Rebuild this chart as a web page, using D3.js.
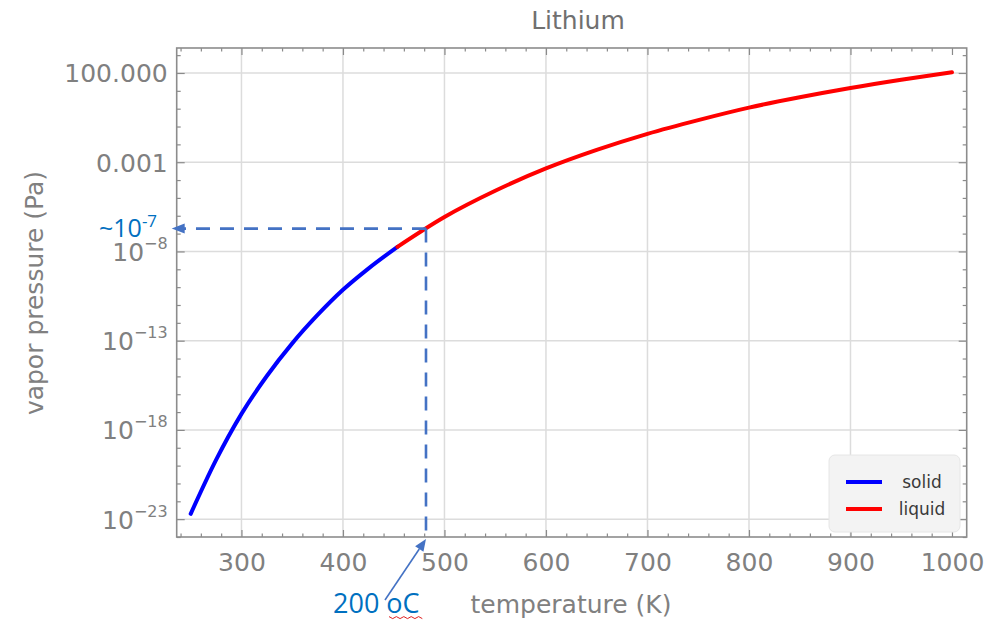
<!DOCTYPE html>
<html><head><meta charset="utf-8">
<script src="https://cdn.jsdelivr.net/npm/d3@7"></script>
<style>body{margin:0;background:#fff}</style>
</head><body>
<svg id="chart" width="991" height="626"></svg>
<script>
// ---- data ----
const title = "Lithium";
const xTitle = "temperature (K)";
const yTitle = "vapor pressure (Pa)";
const solidT = [250, 275, 300, 325, 350, 375, 400, 425, 453.7];
const solidLogP = [-22.7, -19.68, -17.1, -14.98, -13.15, -11.56, -10.15, -8.96, -7.74];
const liquidT = [453.7, 500, 550, 600, 650, 700, 750, 800, 850, 900, 950, 1000];
const liquidLogP = [-7.74, -6.07, -4.6, -3.35, -2.31, -1.41, -0.64, 0.06, 0.64, 1.16, 1.62, 2.04];
const xTicks = [300, 400, 500, 600, 700, 800, 900, 1000];
const yTickExp = [2, -3, -8, -13, -18, -23];
const yTickLabels = ["100.000", "0.001", "10|\u22128", "10|\u221213", "10|\u221218", "10|\u221223"];
const seriesNames = ["solid", "liquid"];
const seriesColors = ["#0000ff", "#ff0000"];
const annotT = 481.8;        // dashed guide, K
const annotLogP = -6.72;     // dashed guide, log10 Pa
const annotYText = ["~10", "-7"];
const annotXText = "200 oC";

// ---- layout ----
const svg = d3.select("#chart");
svg.append("rect").attr("width", 991).attr("height", 626).attr("fill", "#fff");
const L = 176.7, R = 966.7, T = 48, B = 537;
const x = d3.scaleLinear().domain([236.2, 1014.5]).range([L, R]);
const y = d3.scaleLog().domain([1e-24, Math.pow(10, 3.4)]).range([B, T]);
const gray = "#808080";
const tickFont = "'DejaVu Sans', Verdana, sans-serif";

// gridlines
const grid = svg.append("g").attr("stroke", "#dcdcdc").attr("stroke-width", 1.5);
grid.selectAll("line.v").data(xTicks.filter(t => t < 1000)).join("line")
  .attr("x1", d => x(d)).attr("x2", d => x(d)).attr("y1", T).attr("y2", B);
grid.selectAll("line.h").data(yTickExp).join("line")
  .attr("x1", L).attr("x2", R).attr("y1", d => y(Math.pow(10, d))).attr("y2", d => y(Math.pow(10, d)));

// minor tick values
const xMinor = d3.range(240, 1014, 20).filter(v => v % 100 !== 0);
const yMinor = d3.range(-24, 4).filter(e => !yTickExp.includes(e)).map(e => Math.pow(10, e));
const yMajor = yTickExp.map(e => Math.pow(10, e));

function styleAxis(g) {
  g.select(".domain").remove();
  g.selectAll(".tick line").attr("stroke", "#8a8a8a").attr("stroke-width", 1.2);
}
// bottom
const gB = svg.append("g").attr("transform", `translate(0,${B})`)
  .call(d3.axisBottom(x).tickValues(xTicks).tickSize(-7).tickPadding(16).tickFormat(d3.format("d")));
styleAxis(gB);
gB.selectAll("text").attr("font-family", tickFont).attr("font-size", 25).attr("fill", gray);
svg.append("g").attr("transform", `translate(0,${B})`)
  .call(d3.axisBottom(x).tickValues(xMinor).tickSize(-3.5).tickFormat("")).call(styleAxis);
// top
svg.append("g").attr("transform", `translate(0,${T})`)
  .call(d3.axisTop(x).tickValues(xTicks).tickSize(-7).tickFormat("")).call(styleAxis);
svg.append("g").attr("transform", `translate(0,${T})`)
  .call(d3.axisTop(x).tickValues(xMinor).tickSize(-3.5).tickFormat("")).call(styleAxis);
// left
const gL = svg.append("g").attr("transform", `translate(${L},0)`)
  .call(d3.axisLeft(y).tickValues(yMajor).tickSize(-8).tickPadding(9).tickFormat(""));
styleAxis(gL);
gL.selectAll(".tick text").each(function(d, i) {
  const t = d3.select(this).attr("font-family", tickFont).attr("fill", gray).attr("font-size", 25).attr("dy", "0.36em");
  const parts = yTickLabels[i].split("|");
  t.text(null);
  t.append("tspan").text(parts[0]);
  if (parts[1]) {
    t.append("tspan").attr("font-size", 16).attr("dy", "-0.75em").text(parts[1]);
  }
});
svg.append("g").attr("transform", `translate(${L},0)`)
  .call(d3.axisLeft(y).tickValues(yMinor).tickSize(-4).tickFormat("")).call(styleAxis);
// right
svg.append("g").attr("transform", `translate(${R},0)`)
  .call(d3.axisRight(y).tickValues(yMajor).tickSize(-8).tickFormat("")).call(styleAxis);
svg.append("g").attr("transform", `translate(${R},0)`)
  .call(d3.axisRight(y).tickValues(yMinor).tickSize(-4).tickFormat("")).call(styleAxis);

// frame
svg.append("rect").attr("x", L).attr("y", T).attr("width", R - L).attr("height", B - T)
  .attr("fill", "none").attr("stroke", "#8c8c8c").attr("stroke-width", 1.6);

// curves
const line = d3.line().x(d => x(d[0])).y(d => y(Math.pow(10, d[1]))).curve(d3.curveMonotoneX);
const series = [solidT.map((t, i) => [t, solidLogP[i]]), liquidT.map((t, i) => [t, liquidLogP[i]])];
series.forEach((s, i) => {
  svg.append("path").attr("d", line(s)).attr("fill", "none")
    .attr("stroke", seriesColors[i]).attr("stroke-width", 4).attr("stroke-linecap", "round");
});

// legend
const lg = svg.append("g");
lg.append("rect").attr("x", 829).attr("y", 455).attr("width", 131).attr("height", 77).attr("rx", 6)
  .attr("fill", "#f3f3f3").attr("stroke", "#e6e6e6");
seriesNames.forEach((n, i) => {
  const yy = 482 + i * 27;
  lg.append("line").attr("x1", 846).attr("x2", 882).attr("y1", yy).attr("y2", yy)
    .attr("stroke", seriesColors[i]).attr("stroke-width", 4);
  lg.append("text").attr("x", 922).attr("y", yy + 6).attr("text-anchor", "middle")
    .attr("font-family", tickFont).attr("font-size", 17).attr("fill", "#3a3a3a").text(n);
});

// titles
svg.append("text").attr("x", 578).attr("y", 29).attr("text-anchor", "middle")
  .attr("font-family", tickFont).attr("font-size", 25).attr("fill", "#707070").text(title);
svg.append("text").attr("x", 571).attr("y", 613).attr("text-anchor", "middle")
  .attr("font-family", tickFont).attr("font-size", 25).attr("fill", gray).text(xTitle);
svg.append("text").attr("transform", "translate(43,293) rotate(-90)").attr("text-anchor", "middle")
  .attr("font-family", tickFont).attr("font-size", 25).attr("fill", gray).text(yTitle);

// annotation
const blue = "#4472C4", txtBlue = "#0070C0";
const ax = x(annotT), ay = y(Math.pow(10, annotLogP));
const tipX = L - 5;
svg.append("path").attr("d", `M${ax},${ay}H${tipX + 12}`).attr("stroke", blue)
  .attr("stroke-width", 2.6).attr("stroke-dasharray", "14,10").attr("fill", "none");
svg.append("path").attr("d", `M${ax},${ay}V${B + 1}`).attr("stroke", blue)
  .attr("stroke-width", 2.6).attr("stroke-dasharray", "14,10").attr("fill", "none");
svg.append("path").attr("d", `M${tipX},${ay}L${tipX + 13},${ay - 5}L${tipX + 13},${ay + 5}Z`).attr("fill", blue);

// arrow from "200 oC" to the vertical guide
const sx = 385, sy = 600, ex = ax, ey = B + 2;
const ang = Math.atan2(ey - sy, ex - sx), hl = 12, hw = 5;
const bx = ex - hl * Math.cos(ang), by = ey - hl * Math.sin(ang);
svg.append("line").attr("x1", sx).attr("y1", sy).attr("x2", bx).attr("y2", by)
  .attr("stroke", blue).attr("stroke-width", 1.6);
svg.append("path").attr("fill", blue).attr("d",
  `M${ex},${ey}L${bx + hw * Math.sin(ang)},${by - hw * Math.cos(ang)}L${bx - hw * Math.sin(ang)},${by + hw * Math.cos(ang)}Z`);

const annFont = "'Open Sans', 'Noto Sans', sans-serif";
const t1 = svg.append("text").attr("x", 99).attr("y", 237).attr("font-family", annFont)
  .attr("font-size", 25).attr("fill", txtBlue);
t1.append("tspan").text(annotYText[0]);
t1.append("tspan").attr("font-size", 17).attr("dy", -10).text(annotYText[1]);
svg.append("text").attr("x", 333).attr("y", 613).attr("font-family", annFont)
  .attr("font-size", 27).attr("fill", txtBlue).attr("xml:space", "preserve").text(annotXText);
// spell-check squiggle under "oC"
const sq = d3.range(0, 10).map(i => [389 + i * 3.7, 617 + (i % 2 ? 1.6 : -0.4)]);
svg.append("path").attr("d", d3.line()(sq)).attr("fill", "none").attr("stroke", "#e02020").attr("stroke-width", 1);
</script>
</body></html>
